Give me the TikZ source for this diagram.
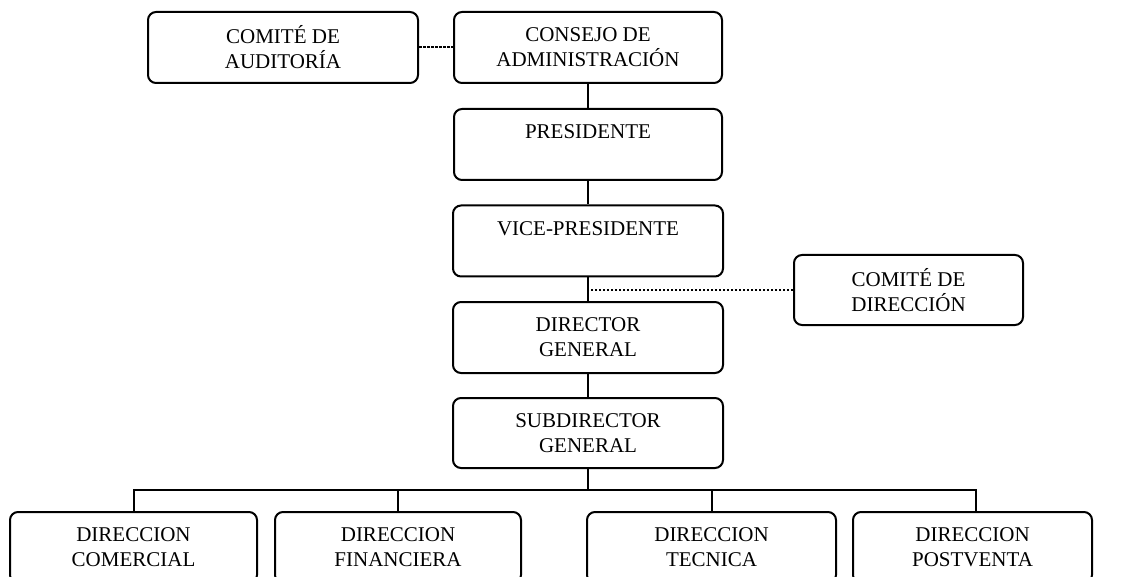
\documentclass[tikz,border=0pt]{standalone}
\usepackage{fontspec}
\setmainfont{Liberation Serif}
\begin{document}
\begin{tikzpicture}[x=1pt,y=-1pt,
  box/.style={draw, line width=2pt, rounded corners=8pt, align=center,
    font=\fontsize{21}{25}\selectfont, inner sep=0pt, minimum height=71pt},
  link/.style={line width=2pt},
  dotlink/.style={line width=2pt, dash pattern=on 2.5pt off 1.5pt}]
\clip (0,0) rectangle (1140,577);
\fill[white] (0,0) rectangle (1140,577);
\node[box, minimum width=270pt] (aud) at (283,47.5) {COMITÉ DE\\AUDITORÍA};
\node[box, minimum width=268pt] (cons) at (588,47.5) {CONSEJO DE\\ADMINISTRACIÓN};
\node[box, minimum width=268pt] (pres) at (588,144.5) {PRESIDENTE\\~};
\node[box, minimum width=270pt] (vice) at (588,241) {VICE-PRESIDENTE\\~};
\node[box, minimum width=270pt] (dirg) at (588,337.5) {DIRECTOR\\GENERAL};
\node[box, minimum width=270pt, minimum height=70pt] (sub) at (588,433) {SUBDIRECTOR\\GENERAL};
\node[box, minimum width=229pt, minimum height=70pt] (cdir) at (908.5,290) {COMITÉ DE\\DIRECCIÓN};
\node[box, minimum width=247pt] (b1) at (133.5,547.5) {DIRECCION\\COMERCIAL};
\node[box, minimum width=246pt] (b2) at (398,547.5) {DIRECCION\\FINANCIERA};
\node[box, minimum width=249pt] (b3) at (711.5,547.5) {DIRECCION\\TECNICA};
\node[box, minimum width=239pt] (b4) at (972.5,547.5) {DIRECCION\\POSTVENTA};
\coordinate (bus) at (588,490);
\draw[link] (cons.south) -- (pres.north);
\draw[link] (pres.south) -- (vice.north);
\draw[link] (vice.south) -- (dirg.north);
\draw[link] (dirg.south) -- (sub.north);
\draw[link] (sub.south) -- (bus);
\draw[link] (b1.north) -- (b1.north |- bus) -- ([xshift=3.5pt]b4.north |- bus) -- ([xshift=3.5pt]b4.north);
\draw[link] (b2.north) -- (b2.north |- bus);
\draw[link] (b3.north) -- (b3.north |- bus);
\draw[dotlink] (aud.east) -- (cons.west);
\draw[dotlink] (cdir.west) -- (cdir.west -| vice.south);
\end{tikzpicture}
\end{document}
